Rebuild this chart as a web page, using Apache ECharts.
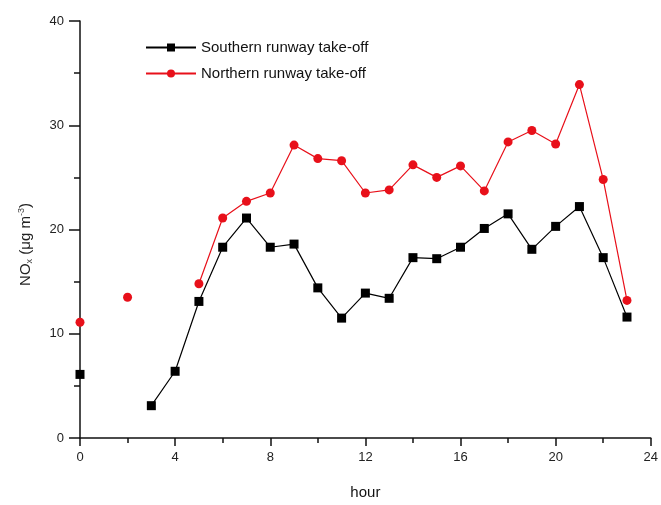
<!DOCTYPE html>
<html>
<head>
<meta charset="utf-8">
<script src="https://cdn.jsdelivr.net/npm/echarts@6/dist/echarts.min.js"></script>
<style>html,body{margin:0;padding:0;background:#fff}#c{width:661px;height:505px}</style>
</head>
<body>
<div id="c"></div>
<script>
var hours = [0,1,2,3,4,5,6,7,8,9,10,11,12,13,14,15,16,17,18,19,20,21,22,23];
var southern = [6.1,null,null,3.1,6.4,13.1,18.3,21.1,18.3,18.6,14.4,11.5,13.9,13.4,17.3,17.2,18.3,20.1,21.5,18.1,20.3,22.2,17.3,11.6];
var northern = [11.1,null,13.5,null,null,14.8,21.1,22.7,23.5,28.1,26.8,26.6,23.5,23.8,26.2,25.0,26.1,23.7,28.4,29.5,28.2,33.9,24.8,13.2];
var seriesNames = ['Southern runway take-off','Northern runway take-off'];
var xTicks = {min:0, max:24, interval:4};
var yTicks = {min:0, max:40, interval:10};

function pairs(vals){ return hours.map(function(h,i){ return [h, vals[i]]; }); }

var chart = echarts.init(document.getElementById('c'));
var tickLabel = {color:'#222', fontFamily:'Liberation Sans, Arial', fontSize:13};
chart.setOption({
  animation:false,
  backgroundColor:'#fff',
  grid:{left:80, right:7, top:21, bottom:62, containLabel:false},
  legend:{
    left:140, top:35, orient:'vertical', itemGap:11,
    itemWidth:50, itemHeight:10,
    textStyle:{fontFamily:'Liberation Sans, Arial', fontSize:15, color:'#111'},
    data:[{name:seriesNames[0]},{name:seriesNames[1]}]
  },
  xAxis:{
    type:'value', min:xTicks.min, max:xTicks.max, interval:xTicks.interval,
    name:'hour', nameLocation:'middle', nameGap:47,
    nameTextStyle:{fontFamily:'Liberation Sans, Arial', fontSize:15, color:'#111'},
    axisLine:{onZero:false, lineStyle:{color:'#111', width:1.5}},
    axisTick:{show:true, inside:false, length:8, lineStyle:{color:'#111', width:1.5}},
    minorTick:{show:true, splitNumber:2, length:5, lineStyle:{color:'#111', width:1.5}},
    axisLabel:Object.assign({margin:13}, tickLabel),
    splitLine:{show:false}
  },
  yAxis:{
    type:'value', min:yTicks.min, max:yTicks.max, interval:yTicks.interval,
    name:'{a|NO}{sub|x}{a| (μg m}{sup|-3}{a|)}', nameLocation:'middle', nameGap:46,
    nameRotate:90,
    nameTextStyle:{
      padding:[0,30,0,0],
      rich:{
        a:{fontFamily:'Liberation Sans, Arial', fontSize:15, color:'#222'},
        sub:{fontFamily:'Liberation Sans, Arial', fontSize:9, color:'#444', verticalAlign:'bottom', padding:[8,0,0,0]},
        sup:{fontFamily:'Liberation Sans, Arial', fontSize:9, color:'#444', verticalAlign:'top', padding:[0,0,8,0]}
      }
    },
    axisLine:{show:true, lineStyle:{color:'#111', width:1.5}},
    axisTick:{show:true, inside:false, length:11, lineStyle:{color:'#111', width:1.5}},
    minorTick:{show:true, splitNumber:2, length:6, lineStyle:{color:'#111', width:1.5}},
    axisLabel:Object.assign({margin:16}, tickLabel),
    splitLine:{show:false}
  },
  series:[
    {
      name:seriesNames[0], type:'line', data:pairs(southern),
      symbol:'rect', symbolSize:9, showSymbol:true, connectNulls:false, clip:true,
      lineStyle:{color:'#000', width:1.2}, itemStyle:{color:'#000'}, z:2
    },
    {
      name:seriesNames[1], type:'line', data:pairs(northern),
      symbol:'circle', symbolSize:9, showSymbol:true, connectNulls:false, clip:true,
      lineStyle:{color:'#e8101a', width:1.2}, itemStyle:{color:'#e8101a'}, z:3
    }
  ]
});
</script>
</body>
</html>
